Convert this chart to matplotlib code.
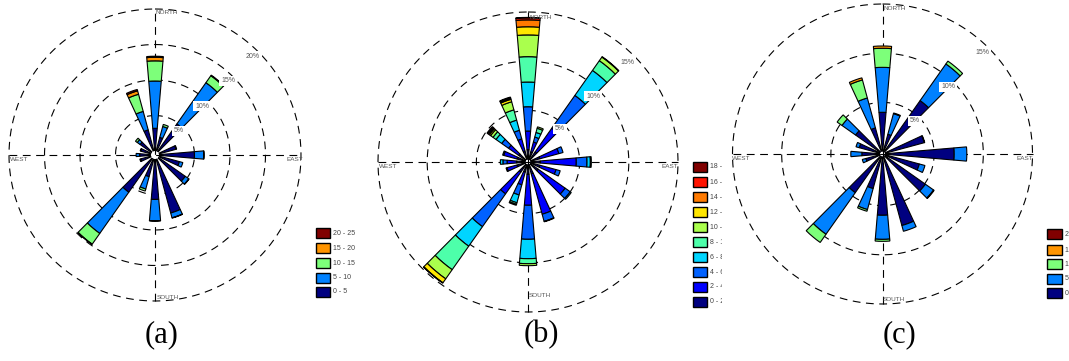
import numpy as np
import matplotlib
matplotlib.use("Agg")
import matplotlib.pyplot as plt
from matplotlib.patches import Rectangle

# ---------------- data ----------------
directions = [0, 20, 40, 70, 90, 110, 130, 160, 180, 200, 220, 250, 270, 290, 310, 340]

bins_ac = ["0 - 5", "5 - 10", "10 - 15", "15 - 20", "20 - 25"]
bins_b = ["0 - 2", "2 - 4", "4 - 6", "6 - 8", "8 - 10", "10 - 12", "12 - 14", "14 - 16", "16 - 18", "18 - 20"]

a_0_5 = [3.2, 2.0, 4.8, 2.5, 5.0, 3.0, 4.66, 7.9, 5.7, 2.6, 5.85, 1.5, 1.6, 1.5, 2.0, 3.1]
a_5_10 = [6.66, 1.6, 7.1, 0.1, 1.3, 0.5, 0.6, 0.7, 3.0, 1.8, 7.1, 0.15, 0.5, 0.1, 0.5, 2.7]
a_10_15 = [2.84, 0.3, 1.2, 0, 0.05, 0, 0.05, 0.05, 0.05, 0.3, 1.85, 0, 0, 0, 0.3, 2.5]
a_15_20 = [0.5, 0, 0.1, 0, 0, 0, 0, 0, 0, 0, 0.05, 0, 0, 0, 0, 0.5]
a_20_25 = [0.15, 0, 0, 0, 0, 0, 0, 0, 0, 0, 0, 0, 0, 0, 0, 0.2]

b_0_2 = [1.0, 0.8, 1.0, 1.0, 1.0, 1.0, 1.0, 1.0, 1.0, 0.8, 1.0, 0.9, 0.9, 0.9, 0.9, 0.9]
b_2_4 = [1.9, 1.05, 2.95, 2.0, 3.66, 1.7, 3.37, 4.25, 3.15, 1.35, 2.71, 1.06, 0.98, 1.4, 1.27, 1.28]
b_4_6 = [2.47, 0.53, 4.08, 0.44, 1.09, 0.44, 0.63, 0.75, 3.46, 1.07, 4.08, 0.1, 0.42, 0.12, 0.85, 0.91]
b_6_8 = [2.51, 0.48, 3.11, 0, 0.34, 0, 0.13, 0.05, 1.97, 0.82, 2.43, 0, 0.26, 0, 0.71, 1.07]
b_8_10 = [2.58, 0.44, 1.21, 0, 0.1, 0, 0, 0, 0.51, 0.16, 2.92, 0, 0, 0, 0.37, 1.08]
b_10_12 = [2.21, 0.15, 0.45, 0, 0, 0, 0, 0, 0.2, 0.11, 1.14, 0, 0, 0, 0.3, 0.85]
b_12_14 = [0.83, 0, 0.05, 0, 0, 0, 0, 0, 0, 0, 0.49, 0, 0, 0, 0.15, 0.26]
b_14_16 = [0.7, 0, 0, 0, 0, 0, 0, 0, 0, 0, 0.05, 0, 0, 0, 0.1, 0.1]
b_16_18 = [0.2, 0, 0, 0, 0, 0, 0, 0, 0, 0, 0, 0, 0, 0, 0.1, 0.07]
b_18_20 = [0.05, 0, 0, 0, 0, 0, 0, 0, 0, 0, 0, 0, 0, 0, 0.1, 0.07]

c_0_5 = [3.99, 1.83, 6.39, 4.15, 7.04, 3.63, 5.08, 7.28, 5.98, 3.39, 4.56, 1.5, 1.85, 2.2, 3.1, 2.5]
c_5_10 = [4.57, 2.17, 4.56, 0.05, 1.28, 0.59, 1.02, 0.61, 2.45, 2.21, 5.17, 0.38, 1.12, 0.34, 1.69, 3.15]
c_10_15 = [1.94, 0.07, 0.35, 0, 0, 0, 0.07, 0, 0.2, 0.18, 1.02, 0, 0, 0, 0.6, 1.9]
c_15_20 = [0.23, 0, 0, 0, 0, 0, 0, 0, 0, 0, 0, 0, 0, 0, 0, 0.22]
c_20_25 = [0, 0, 0, 0, 0, 0, 0, 0, 0, 0, 0, 0, 0, 0, 0, 0]

a_rings = [5, 10, 15, 20]
bc_rings = [5, 10, 15]

# ---------------- figure ----------------
W, H = 1069, 361
fig = plt.figure(figsize=(W / 100, H / 100), dpi=100)
fig.patch.set_facecolor("white")

SANS = ["Liberation Sans", "DejaVu Sans"]
SERIF = ["Liberation Serif", "DejaVu Serif"]
DASH = (0, (7, 5))


def fx(x):
    return x / W


def fy(y):
    return 1 - y / H


def rose(cx, cy, R, rmax, hole, series, colors, rings, ring_lbl_pos, dir_pos):
    ax = fig.add_axes([fx(cx - R), fy(cy + R), 2 * R / W, 2 * R / H], projection="polar")
    ax.set_theta_zero_location("N")
    ax.set_theta_direction(-1)
    ax.set_rorigin(-hole)
    ax.set_ylim(0, rmax)
    ax.axis("off")

    t = np.linspace(0, 2 * np.pi, 500)
    for r in rings:
        ax.plot(t, np.full_like(t, r), color="k", lw=0.8, ls=DASH, clip_on=False, zorder=1)
    ax.plot([0.5, 0.5], [0, 1], transform=ax.transAxes, color="k", lw=0.8, ls=DASH,
            clip_on=False, zorder=1)
    ax.plot([0, 1], [0.5, 0.5], transform=ax.transAxes, color="k", lw=0.8, ls=DASH,
            clip_on=False, zorder=1)

    theta = np.deg2rad(directions)
    bottom = np.zeros(len(directions))
    for vals, col in zip(series, colors):
        vals = np.asarray(vals, dtype=float)
        m = vals > 0
        ax.bar(theta[m], vals[m], width=np.deg2rad(9.7), bottom=bottom[m], color=col,
               edgecolor="k", linewidth=0.8, zorder=3, align="center")
        bottom += vals

    for r, (px, py) in zip(rings, ring_lbl_pos):
        fig.text(fx(px), fy(py), f"{r}%", ha="center", va="center", fontsize=5,
                 color="#555555", family=SANS, zorder=5,
                 bbox=dict(facecolor="white", edgecolor="none", pad=1.2))

    (nx, ny), (sx, sy), (wx, wy), (ex, ey) = dir_pos
    kw = dict(fontsize=4.6, color="#555555", family=SANS)
    fig.text(fx(nx), fy(ny), "NORTH", ha="left", va="top", **kw)
    fig.text(fx(sx), fy(sy), "SOUTH", ha="left", va="bottom", **kw)
    fig.text(fx(wx), fy(wy), "WEST", ha="left", va="top", **kw)
    fig.text(fx(ex), fy(ey), "EAST", ha="right", va="top", **kw)
    return ax


def legend(x0, x1, tops, labels, colors, xt, clip_right=None):
    lax = fig.add_axes([fx(x0 - 2), 0, ((clip_right or W) - x0 + 2) / W, 1])
    lax.axis("off")
    for top, lab, col in zip(tops, labels, colors):
        rect = Rectangle((fx(x0), fy(top + 10)), (x1 - x0) / W, 10 / H,
                         transform=fig.transFigure, facecolor=col, edgecolor="k",
                         linewidth=1.0, clip_on=False)
        lax.add_artist(rect)
        lax.text(fx(xt), fy(top + 5), lab, transform=fig.transFigure, ha="left",
                 va="center", fontsize=5, color="#444444", family=SANS, clip_on=True)


cols5 = plt.cm.jet(np.linspace(0, 1, 5))
cols10 = plt.cm.jet(np.linspace(0, 1, 10))

# panel (a)
rose(155, 155, 146, 20, 0.56, [a_0_5, a_5_10, a_10_15, a_15_20, a_20_25], cols5, a_rings,
     [(179, 131), (202, 106), (228, 81), (253, 56)],
     [(156, 10), (157, 300), (10, 157), (303, 157)])
# panel (b)
rose(528, 162, 150, 15, 0.25,
     [b_0_2, b_2_4, b_4_6, b_6_8, b_8_10, b_10_12, b_12_14, b_14_16, b_16_18, b_18_20],
     cols10, bc_rings,
     [(560, 129), (593, 96), (627, 62)],
     [(529, 15), (529, 298), (379, 164), (678, 164)])
# panel (c)
rose(882.5, 154, 150, 15, 0.25, [c_0_5, c_5_10, c_10_15, c_15_20, c_20_25], cols5, bc_rings,
     [(915, 121), (948, 87), (982, 52)],
     [(883, 6), (883, 302), (732, 156), (1033, 156)])

# legends (top entry = highest bin)
legend(316, 330, [228.3, 243.3, 258.3, 272.7, 286.7], bins_ac[::-1], cols5[::-1], 333)
legend(692.7, 706.7, [162, 177.3, 192.3, 207.3, 222.3, 237.3, 252.3, 267.3, 281.7, 296.7],
       bins_b[::-1], cols10[::-1], 710, clip_right=722)
legend(1047.3, 1061.7, [229.3, 245, 259.3, 274, 288.3], bins_ac[::-1], cols5[::-1], 1065)

# panel captions
for lab, x in [("(a)", 162), ("(b)", 541), ("(c)", 900)]:
    fig.text(fx(x), fy(335), lab, ha="center", va="center", fontsize=22, family=SERIF,
             color="black")

fig.savefig("out.png", dpi=100, facecolor="white")
